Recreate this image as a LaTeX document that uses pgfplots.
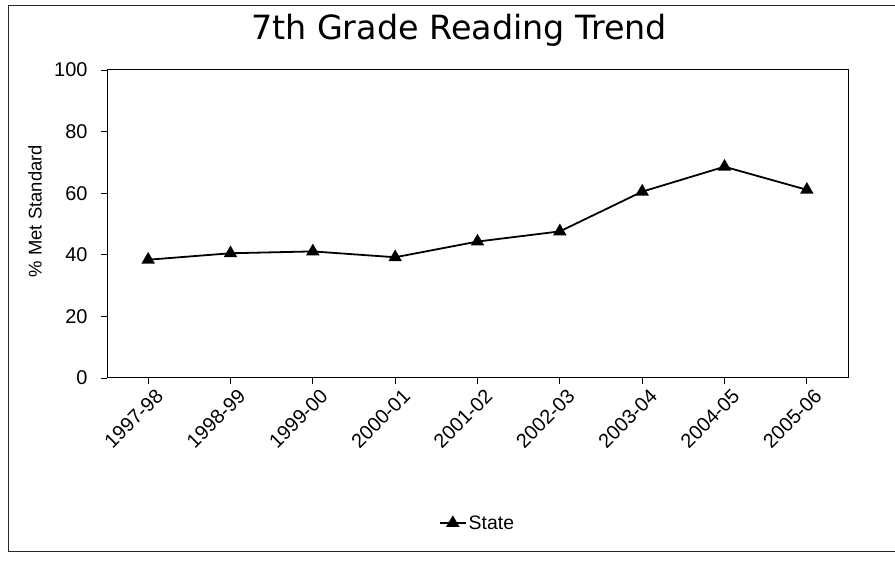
\documentclass[border=0pt]{standalone}
\usepackage{fontspec}
\setmainfont{Liberation Sans}
\newfontfamily\titlefont{DejaVu Sans}
\usepackage{pgfplots}
\pgfplotsset{compat=1.18}
\begin{document}
\begin{tikzpicture}
\useasboundingbox (0bp,0bp) rectangle (895bp,564bp);
\fill[white] (0bp,0bp) rectangle (895bp,564bp);
\draw[line width=1bp,black!85] (895bp,558bp) -- (8bp,558bp) -- (8bp,12bp) -- (895bp,12bp);
\node[anchor=base,font=\titlefont\fontsize{33.5}{36}\selectfont,inner sep=0pt] at (459bp,524bp) {7th Grade Reading Trend};
\begin{axis}[
  at={(107bp,186bp)}, anchor=south west,
  scale only axis, width=741bp, height=308bp,
  xmin=-0.5, xmax=8.5, ymin=0, ymax=100,
  xtick={0,...,8},
  xticklabels={1997-98,1998-99,1999-00,2000-01,2001-02,2002-03,2003-04,2004-05,2005-06},
  ytick={0,20,40,60,80,100},
  tick align=outside, major tick length=6bp,
  xtick pos=bottom, ytick pos=left,
  tick style={black, line width=0.8bp},
  axis line style={black, line width=1bp},
  /pgf/number format/assume math mode=true,
  ticklabel style={font=\fontsize{20}{22}\selectfont},
  yticklabel style={xshift=-10bp},
  xticklabel style={rotate=45, anchor=north east, inner sep=1bp, yshift=-6bp, xshift=3bp},
  ylabel={\% Met Standard},
  ylabel style={at={(axis description cs:-0.097,0.542)}, anchor=center, font=\fontsize{18.5}{20}\selectfont},
  legend style={at={(axis description cs:0.5,-0.471)}, anchor=center, draw=none, fill=none, font=\fontsize{19.5}{21}\selectfont, inner sep=1bp},
  legend cell align=left,
  legend entries={State},
  legend image code/.code={\draw[#1] (0bp,0bp) -- (26bp,0bp); \draw[#1,only marks] plot coordinates {(13bp,0bp)};},
]
\addplot[black, line width=1.8bp, mark=triangle*, mark size=6bp, mark options={solid, fill=black}]
  coordinates {(0,38.4) (1,40.5) (2,41.1) (3,39.2) (4,44.3) (5,47.6) (6,60.5) (7,68.6) (8,61.1)};
\end{axis}
\end{tikzpicture}
\end{document}
